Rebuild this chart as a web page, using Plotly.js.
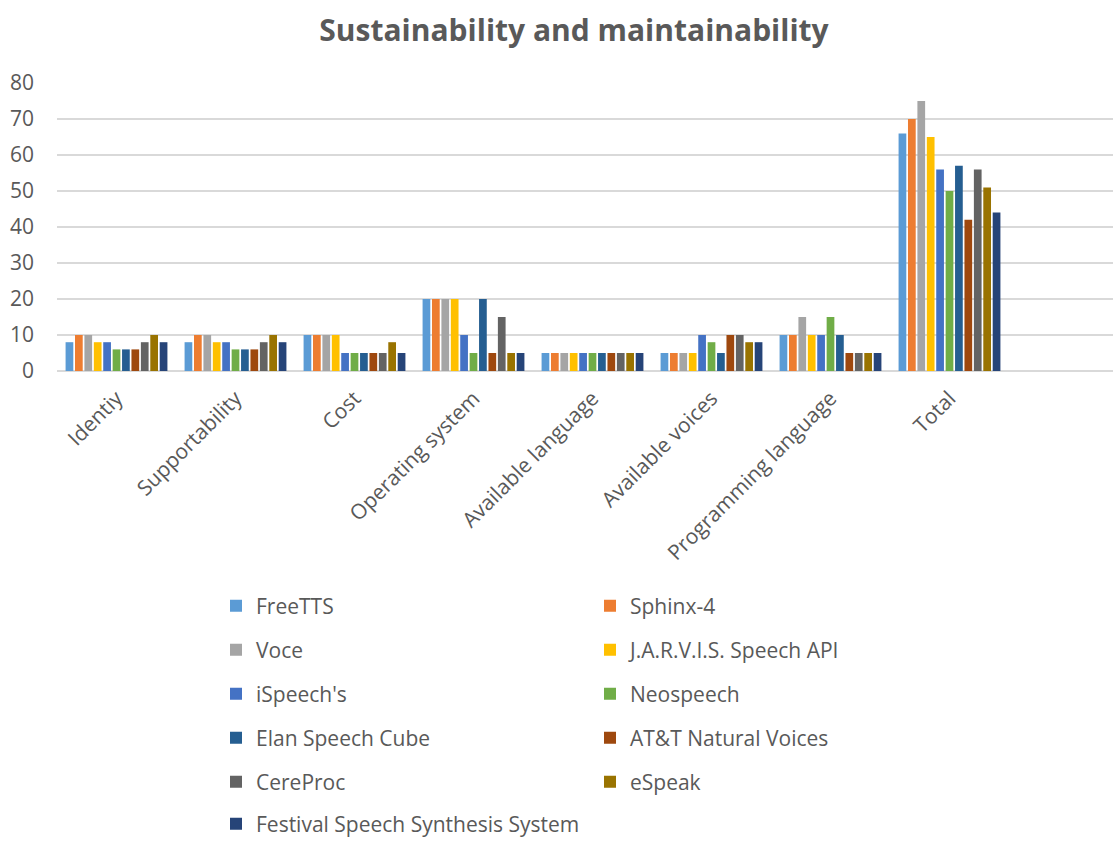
<!DOCTYPE html>
<html>
<head>
<meta charset="utf-8">
<script src="https://cdn.plot.ly/plotly-3.0.1.min.js"></script>
<style>html,body{margin:0;padding:0;background:#fff;}#chart{width:1113px;height:841px;}</style>
</head>
<body>
<div id="chart"></div>
<script>
const categories = ["Identiy","Supportability","Cost","Operating system","Available language","Available voices","Programming language","Total"];
const seriesNames = ["FreeTTS","Sphinx-4","Voce","J.A.R.V.I.S. Speech API","iSpeech's","Neospeech","Elan Speech Cube","AT&T Natural Voices","CereProc","eSpeak","Festival Speech Synthesis System"];
const freeTTS   = [8, 8, 10, 20, 5, 5, 10, 66];
const sphinx4   = [10, 10, 10, 20, 5, 5, 10, 70];
const voce      = [10, 10, 10, 20, 5, 5, 15, 75];
const jarvis    = [8, 8, 10, 20, 5, 5, 10, 65];
const ispeech   = [8, 8, 5, 10, 5, 10, 10, 56];
const neospeech = [6, 6, 5, 5, 5, 8, 15, 50];
const elan      = [6, 6, 5, 20, 5, 5, 10, 57];
const att       = [6, 6, 5, 5, 5, 10, 5, 42];
const cereproc  = [8, 8, 5, 15, 5, 10, 5, 56];
const espeak    = [10, 10, 8, 5, 5, 8, 5, 51];
const festival  = [8, 8, 5, 5, 5, 8, 5, 44];
const seriesValues = [freeTTS, sphinx4, voce, jarvis, ispeech, neospeech, elan, att, cereproc, espeak, festival];
const colors = ["#5B9BD5","#ED7D31","#A5A5A5","#FFC000","#4472C4","#70AD47","#255E91","#9E480E","#636363","#997300","#264478"];

const legendIds = ["legend","legend2","legend3","legend4","legend5","legend6"];
const traces = seriesNames.map((name, i) => ({
  type: "bar",
  name: name,
  x: categories,
  y: seriesValues[i],
  marker: {color: colors[i]},
  legend: legendIds[Math.floor(i / 2)],
  hoverinfo: "x+y+name"
}));

const W = 1113, H = 841;
const plotL = 57, plotR = 1113, plotT = 83, plotB = 371;
const pw = plotR - plotL;
const rowY = [606, 650, 694, 738, 782, 824];
const legendStartX = 216;

const layout = {
  width: W, height: H,
  margin: {l: plotL, r: W - plotR, t: plotT, b: H - plotB, pad: 0, autoexpand: false},
  paper_bgcolor: "#ffffff",
  plot_bgcolor: "#ffffff",
  font: {family: "Open Sans, sans-serif", color: "#595959", size: 21},
  title: {
    text: "<b>Sustainability and maintainability</b>",
    font: {family: "Open Sans, sans-serif", size: 30, color: "#595959"},
    x: 574 / W, xanchor: "center", xref: "container",
    y: 1 - 30 / H, yanchor: "middle", yref: "container"
  },
  barmode: "group",
  bargap: 0.13,
  bargroupgap: 0.18,
  xaxis: {
    type: "category",
    range: [-0.5, -0.5 + pw / 119],
    tickangle: -45,
    showgrid: false,
    zeroline: false,
    showline: false,
    ticks: "",
    tickfont: {size: 21, color: "#595959"},
    ticklabelstandoff: 10,
    fixedrange: true
  },
  yaxis: {
    range: [0, 80],
    dtick: 10,
    showgrid: true,
    gridcolor: "#D9D9D9",
    gridwidth: 1.5,
    zeroline: true,
    zerolinecolor: "#D9D9D9",
    zerolinewidth: 1.5,
    showline: false,
    ticks: "",
    tickfont: {size: 21, color: "#595959"},
    ticklabelstandoff: 22,
    fixedrange: true
  },
  showlegend: true
};

legendIds.forEach((id, r) => {
  layout[id] = {
    orientation: "h",
    x: legendStartX / W,
    xref: "container",
    xanchor: "left",
    y: 1 - rowY[r] / H,
    yref: "container",
    yanchor: "middle",
    entrywidth: 329,
    entrywidthmode: "pixels",
    itemwidth: 30,
    bgcolor: "rgba(0,0,0,0)",
    font: {size: 21, color: "#595959"},
    traceorder: "normal",
    itemclick: false,
    itemdoubleclick: false
  };
});

Plotly.newPlot("chart", traces, layout, {displayModeBar: false, staticPlot: true});
</script>
</body>
</html>
